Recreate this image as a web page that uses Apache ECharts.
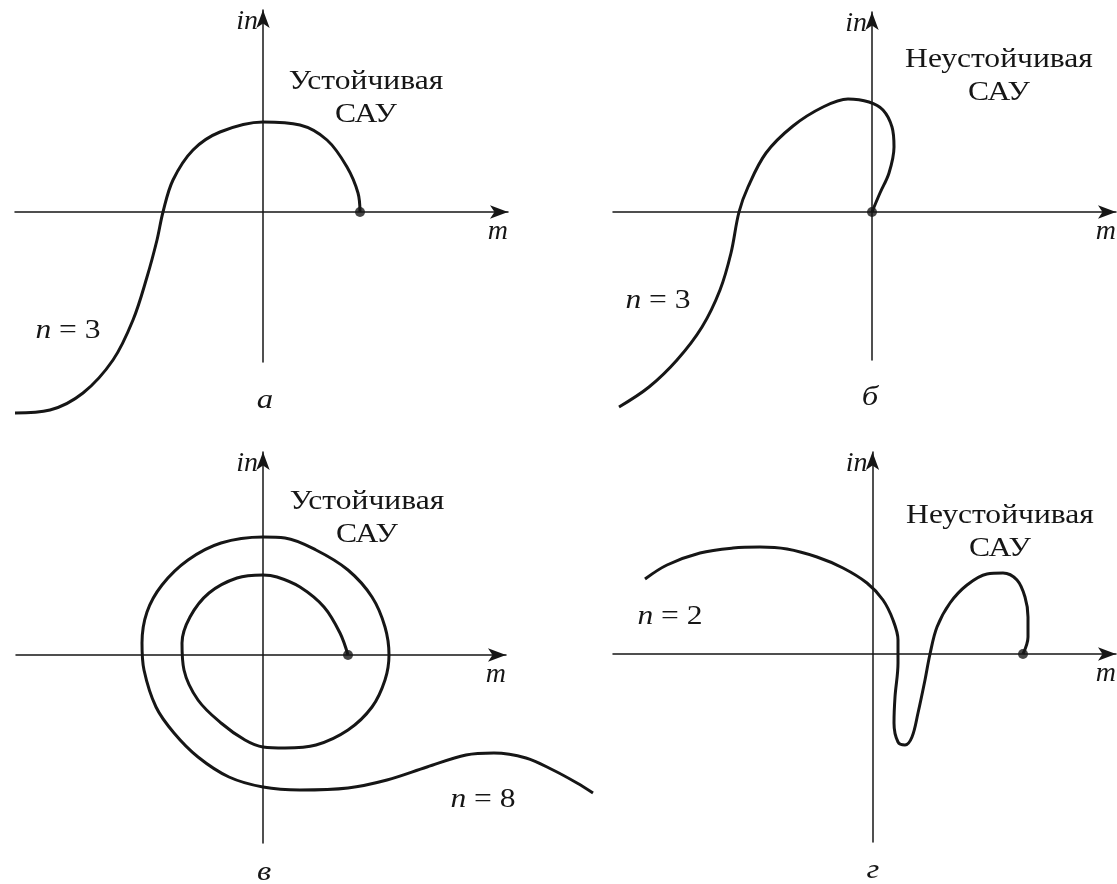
<!DOCTYPE html>
<html>
<head>
<meta charset="utf-8">
<script src="https://cdn.jsdelivr.net/npm/echarts@6/dist/echarts.min.js"></script>
<style>
  html, body { margin: 0; padding: 0; background: #fff; }
  #main { width: 1117px; height: 884px; }
</style>
</head>
<body>
<div id="main"></div>
<script>
// годографы Михайлова, точки (m, n)
var curveA = [[-248,-201],[-213,-198],[-180,-181],[-150,-148],[-130,-108],[-116,-65],[-106,-28],[-100,0],[-90,32],[-70,62],[-43,80],[0,90],[37,87],[64,72],[84,45],[95,19],[97,0]];
var curveB = [[-253,-195],[-223,-175],[-195,-148],[-170,-115],[-152,-78],[-141,-41],[-133,0],[-124,25],[-106,59],[-79,86],[-49,105],[-24,113],[-3,110],[11,102],[20,85],[22,65],[17,39],[8,19],[0,0]];
var curveC = [[330,-138],[314,-128],[290,-115],[263,-103],[231,-98],[203,-100],[164,-112],[124,-125],[85,-133],[37,-135],[0,-132],[-34,-122],[-65,-102],[-89,-78],[-107,-52],[-119,-15],[-121,12],[-116,43],[-101,70],[-75,95],[-42,112],[0,118],[22,117],[53,105],[85,85],[109,58],[122,28],[126,0],[122,-25],[109,-52],[85,-75],[53,-90],[22,-93],[0,-92],[-18,-85],[-42,-68],[-65,-45],[-79,-15],[-81,12],[-73,38],[-54,62],[-26,77],[0,80],[14,78],[37,68],[61,48],[77,22],[85,0]];
var curveD = [[-228,75],[-206,89],[-173,101],[-140,106],[-113,107],[-86,105],[-56,97],[-30,86],[-6,71],[10,54],[20,34],[25,14],[25,-9],[22,-43],[21,-69],[25,-88],[32,-91],[39,-83],[45,-59],[52,-26],[57,0],[64,27],[77,51],[94,69],[114,80],[130,81],[144,74],[152,57],[155,37],[155,17],[150,0]];

var curves = [curveA, curveB, curveC, curveD];
var captions = ['Устойчивая\nСАУ', 'Неустойчивая\nСАУ', 'Устойчивая\nСАУ', 'Неустойчивая\nСАУ'];
var orders = ['{i|n} = 3', '{i|n} = 3', '{i|n} = 8', '{i|n} = 2'];
var letters = ['а', 'б', 'в', 'г'];

var W = 1117, H = 884;
var FONT = '"Liberation Serif", "DejaVu Serif", serif';
var INK = '#161616';

// расположение панелей (пиксели) и пределы осей
var panels = [
  { left: 15,  top: 10,  width: 493, height: 352, x: [-248, 245], y: [-150, 202],
    cap: [366, 98],   ord: [68, 331],  let: [265, 401] },
  { left: 613, top: 12,  width: 503, height: 348, x: [-259, 244], y: [-148, 200],
    cap: [999, 76],   ord: [658, 301], let: [870, 398] },
  { left: 16,  top: 452, width: 490, height: 391, x: [-247, 243], y: [-188, 203],
    cap: [367, 518],  ord: [483, 800], let: [264, 873] },
  { left: 613, top: 452, width: 504, height: 390, x: [-260, 244], y: [-188, 202],
    cap: [1000, 532], ord: [670, 617], let: [873, 871] }
];

var axisLine = {
  onZero: true,
  lineStyle: { color: INK, width: 1.5 },
  symbol: ['none', 'arrow'],
  symbolSize: [10, 18]
};
var nameStyle = { fontFamily: FONT, fontStyle: 'italic', fontSize: 28, color: INK, align: 'right', verticalAlign: 'top' };

var grids = [], xAxes = [], yAxes = [], series = [], graphic = [];

function text(x, y, str, extra) {
  var style = { text: str, fontFamily: FONT, fontSize: 27, fill: INK, textAlign: 'center', textVerticalAlign: 'middle' };
  for (var k in extra) style[k] = extra[k];
  return { type: 'text', x: x, y: y, scaleX: 1.17, style: style };
}

panels.forEach(function (p, i) {
  var ox = p.left - p.x[0], oy = p.top + p.y[1];
  // сетка с видимыми осями
  grids.push({ left: p.left, top: p.top, width: p.width, height: p.height });
  xAxes.push({
    type: 'value', gridIndex: 2 * i, min: p.x[0], max: p.x[1],
    axisLine: axisLine, axisTick: { show: false }, axisLabel: { show: false }, splitLine: { show: false },
    name: 'm', nameLocation: 'end', nameGap: 0,
    nameTextStyle: Object.assign({ padding: [6, 0, 0, 0] }, nameStyle)
  });
  yAxes.push({
    type: 'value', gridIndex: 2 * i, min: p.y[0], max: p.y[1],
    axisLine: axisLine, axisTick: { show: false }, axisLabel: { show: false }, splitLine: { show: false },
    name: 'in', nameLocation: 'end', nameGap: 2,
    nameTextStyle: Object.assign({ padding: [0, 5, 0, 0] }, nameStyle)
  });
  // сетка на всё полотно в том же масштабе — для кривой
  grids.push({ left: 0, top: 0, width: W, height: H });
  xAxes.push({ type: 'value', gridIndex: 2 * i + 1, min: -ox, max: W - ox, show: false });
  yAxes.push({ type: 'value', gridIndex: 2 * i + 1, min: oy - H, max: oy, show: false });

  var c = curves[i];
  series.push({
    type: 'line', xAxisIndex: 2 * i + 1, yAxisIndex: 2 * i + 1, data: c,
    smooth: 0.35, symbol: 'none',
    lineStyle: { color: INK, width: 3 }
  });
  series.push({
    type: 'scatter', xAxisIndex: 2 * i + 1, yAxisIndex: 2 * i + 1, data: [c[c.length - 1]],
    symbolSize: 10, itemStyle: { color: INK }
  });

  graphic.push(text(p.cap[0], p.cap[1], captions[i], { lineHeight: 33 }));
  graphic.push(text(p.ord[0], p.ord[1], orders[i], {
    rich: { i: { fontFamily: FONT, fontStyle: 'italic', fontSize: 27, fill: INK } }
  }));
  graphic.push(text(p.let[0], p.let[1], letters[i], { fontStyle: 'italic', fontSize: 28 }));
});

var myChart = echarts.init(document.getElementById('main'));
myChart.setOption({
  backgroundColor: '#fff',
  animation: false,
  grid: grids,
  xAxis: xAxes,
  yAxis: yAxes,
  series: series,
  graphic: graphic
});
</script>
</body>
</html>
